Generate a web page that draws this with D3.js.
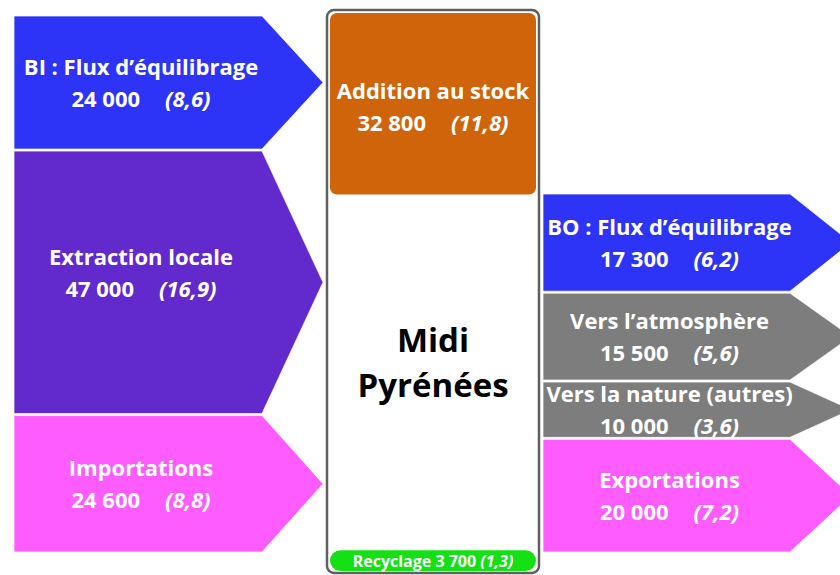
<!DOCTYPE html>
<html>
<head>
<meta charset="utf-8">
<script src="https://cdn.jsdelivr.net/npm/d3@7/dist/d3.min.js"></script>
<style>
  html, body { margin: 0; padding: 0; background: #fff; }
  svg { display: block; }
  text { font-family: "Open Sans", sans-serif; }
</style>
</head>
<body>
<svg id="chart" width="840" height="575"></svg>
<script>
// flows in tonnes, share in t/hab.
const inflowLabels = ['BI : Flux d\u2019équilibrage', 'Extraction locale', 'Importations'];
const inflowValues = [24000, 47000, 24600];
const inflowShares = [8.6, 16.9, 8.8];

const outflowLabels = ['BO : Flux d\u2019équilibrage', 'Vers l\u2019atmosphère', 'Vers la nature (autres)', 'Exportations'];
const outflowValues = [17300, 15500, 10000, 20000];
const outflowShares = [6.2, 5.6, 3.6, 7.2];

const stockLabel = 'Addition au stock';
const stockValue = 32800;
const stockShare = 11.8;

const recyclingLabel = 'Recyclage';
const recyclingValue = 3700;
const recyclingShare = 1.3;

const regionName = ['Midi', 'Pyrénées'];

const INFLOW_COLORS = ['#2e33f8', '#6229cc', '#ff5cff'];
const OUTFLOW_COLORS = ['#2e33f8', '#7d7d7d', '#7d7d7d', '#ff5cff'];
const STOCK_COLOR = '#cf640a';
const RECYCLING_COLOR = '#14e014';

const LEFT = { x0: 14, body: 262, tip: 323 };
const RIGHT = { x0: 543, body: 790, tip: 851 };
const BOX = { x: 327, y: 10, w: 212, h: 563 };
const LABEL_NUDGE = { 'Extraction locale': -9 };
const FONT = 22;
const LINE_GAP = 32;

const fr = d3.formatLocale({ decimal: ',', thousands: ' ', grouping: [3], currency: ['', ' €'] });
const fmtValue = fr.format(',d');
const fmtShare = fr.format('.1f');

const svg = d3.select('#chart');

const leftY = d3.scaleLinear().domain([0, d3.sum(inflowValues)]).range([15, 553]);
const rightY = d3.scaleLinear().domain([0, d3.sum(outflowValues)]).range([193, 553]);

function stack(values, labels, shares, colors) {
  let acc = 0;
  return values.map((v, i) => {
    const d = { label: labels[i], value: v, share: shares[i], color: colors[i], start: acc, end: acc + v };
    acc += v;
    return d;
  });
}

function arrowPath(d, y, geo) {
  const y0 = y(d.start) + 1;
  const y1 = y(d.end) - 1;
  return `M${geo.x0},${y0}H${geo.body}L${geo.tip},${(y0 + y1) / 2}L${geo.body},${y1}H${geo.x0}Z`;
}

function addLabel(g, d, cx, y1) {
  g.append('text')
    .attr('x', cx)
    .attr('y', y1)
    .attr('text-anchor', 'middle')
    .attr('fill', '#fff')
    .attr('font-weight', 700)
    .attr('font-size', FONT)
    .text(d.label);
  const line2 = g.append('text')
    .attr('x', cx)
    .attr('y', y1 + LINE_GAP)
    .attr('text-anchor', 'middle')
    .attr('fill', '#fff')
    .attr('font-weight', 700)
    .attr('font-size', FONT);
  line2.append('tspan').text(fmtValue(d.value));
  line2.append('tspan').attr('dx', 25).attr('font-style', 'italic').text(`(${fmtShare(d.share)})`);
}

function drawColumn(data, y, geo) {
  const g = svg.append('g');
  const groups = g.selectAll('g.flow').data(data).join('g').attr('class', 'flow');
  groups.append('path')
    .attr('d', (d) => arrowPath(d, y, geo))
    .attr('fill', (d) => d.color)
    .attr('stroke', '#fff')
    .attr('stroke-opacity', 0.7)
    .attr('stroke-width', 1);
  groups.each(function (d) {
    const mid = (y(d.start) + y(d.end)) / 2 + (LABEL_NUDGE[d.label] || 0);
    addLabel(d3.select(this), d, (geo.x0 + geo.body) / 2 + 3, mid - 8);
  });
}

// centre box
svg.append('rect')
  .attr('x', BOX.x).attr('y', BOX.y)
  .attr('width', BOX.w).attr('height', BOX.h)
  .attr('rx', 7)
  .attr('fill', '#fff')
  .attr('stroke', '#5f5f5f')
  .attr('stroke-width', 2.5);

const stockH = leftY(stockValue) - leftY(0);
svg.append('rect')
  .attr('x', BOX.x + 3).attr('y', BOX.y + 3)
  .attr('width', BOX.w - 6).attr('height', stockH - 3)
  .attr('rx', 7)
  .attr('fill', STOCK_COLOR);
addLabel(svg.append('g'), { label: stockLabel, value: stockValue, share: stockShare },
  BOX.x + BOX.w / 2, BOX.y + 3 + stockH / 2 - 6);

const recH = leftY(recyclingValue) - leftY(0);
svg.append('rect')
  .attr('x', BOX.x + 3).attr('y', BOX.y + BOX.h - 2 - recH)
  .attr('width', BOX.w - 6).attr('height', recH)
  .attr('rx', recH / 2)
  .attr('fill', RECYCLING_COLOR);
const rec = svg.append('text')
  .attr('x', BOX.x + BOX.w / 2)
  .attr('y', BOX.y + BOX.h - 2 - recH / 2 + 6)
  .attr('text-anchor', 'middle')
  .attr('fill', '#fff')
  .attr('font-weight', 700)
  .attr('font-size', 16);
rec.append('tspan').text(`${recyclingLabel} ${fmtValue(recyclingValue)} `);
rec.append('tspan').attr('font-style', 'italic').text(`(${fmtShare(recyclingShare)})`);

svg.append('g').selectAll('text').data(regionName).join('text')
  .attr('x', BOX.x + BOX.w / 2)
  .attr('y', (d, i) => 352 + i * 45)
  .attr('text-anchor', 'middle')
  .attr('font-weight', 700)
  .attr('font-size', 33)
  .attr('fill', '#000')
  .text((d) => d);

drawColumn(stack(inflowValues, inflowLabels, inflowShares, INFLOW_COLORS), leftY, LEFT);
drawColumn(stack(outflowValues, outflowLabels, outflowShares, OUTFLOW_COLORS), rightY, RIGHT);
</script>
</body>
</html>
